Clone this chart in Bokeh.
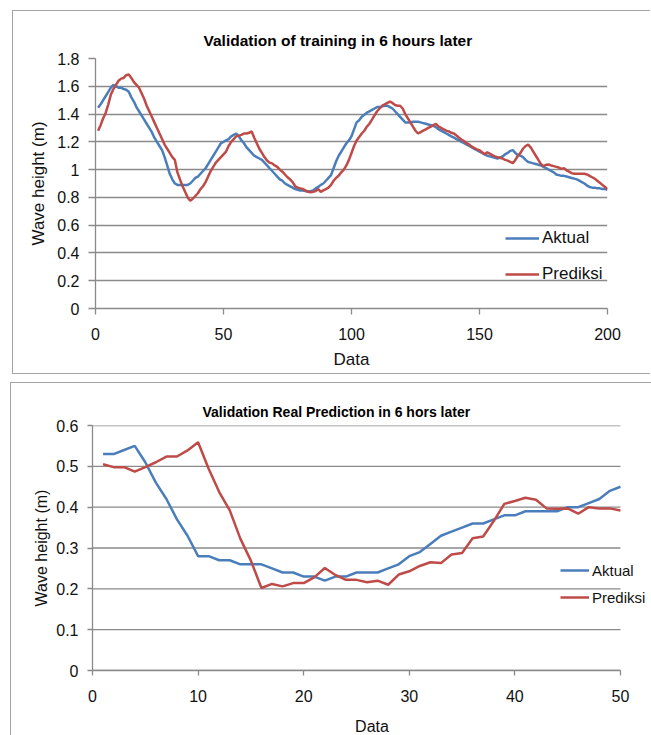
from bokeh.plotting import figure
from bokeh.models import FixedTicker, Legend, LegendItem
from bokeh.embed import file_html
from bokeh.resources import INLINE

# ---------------- Chart 1: Validation of training in 6 hours later ----------------
train_x = list(range(1, 201))
train_aktual = [
    1.445, 1.47, 1.50, 1.53, 1.56, 1.59, 1.61, 1.60, 1.59, 1.59,
    1.58, 1.575, 1.56, 1.52, 1.49, 1.45, 1.42, 1.39, 1.36, 1.33,
    1.30, 1.27, 1.23, 1.20, 1.17, 1.14, 1.09, 1.03, 0.97, 0.93,
    0.90, 0.89, 0.89, 0.89, 0.89, 0.89, 0.90, 0.92, 0.94, 0.95,
    0.97, 0.99, 1.01, 1.04, 1.07, 1.10, 1.13, 1.16, 1.19, 1.20,
    1.21, 1.22, 1.24, 1.25, 1.26, 1.24, 1.21, 1.19, 1.16, 1.14,
    1.12, 1.10, 1.09, 1.08, 1.07, 1.05, 1.03, 1.01, 0.99, 0.97,
    0.95, 0.93, 0.92, 0.90, 0.89, 0.88, 0.87, 0.86, 0.855, 0.85,
    0.85, 0.845, 0.845, 0.845, 0.85, 0.865, 0.875, 0.89, 0.90, 0.92,
    0.94, 0.96, 1.01, 1.06, 1.10, 1.13, 1.16, 1.19, 1.21, 1.24,
    1.29, 1.34, 1.355, 1.38, 1.395, 1.41, 1.42, 1.43, 1.44, 1.45,
    1.45, 1.455, 1.46, 1.46, 1.45, 1.44, 1.42, 1.40, 1.38, 1.36,
    1.34, 1.34, 1.34, 1.345, 1.345, 1.345, 1.34, 1.335, 1.33, 1.325,
    1.32, 1.315, 1.305, 1.29, 1.28, 1.27, 1.26, 1.25, 1.24, 1.23,
    1.22, 1.21, 1.20, 1.19, 1.18, 1.17, 1.16, 1.15, 1.14, 1.13,
    1.12, 1.11, 1.10, 1.095, 1.09, 1.085, 1.08, 1.085, 1.095, 1.11,
    1.12, 1.135, 1.14, 1.12, 1.105, 1.10, 1.09, 1.07, 1.055, 1.05,
    1.045, 1.04, 1.035, 1.03, 1.02, 1.01, 1.00, 0.99, 0.98, 0.965,
    0.96, 0.955, 0.955, 0.95, 0.945, 0.94, 0.935, 0.93, 0.92, 0.91,
    0.90, 0.885, 0.875, 0.87, 0.87, 0.865, 0.865, 0.86, 0.86, 0.855,
]
train_prediksi = [
    1.28, 1.32, 1.37, 1.41, 1.47, 1.54, 1.58, 1.61, 1.64, 1.655,
    1.66, 1.68, 1.685, 1.66, 1.63, 1.61, 1.59, 1.55, 1.51, 1.46,
    1.42, 1.38, 1.34, 1.30, 1.26, 1.22, 1.18, 1.15, 1.12, 1.09,
    1.07, 0.98, 0.93, 0.88, 0.84, 0.80, 0.775, 0.79, 0.81, 0.83,
    0.86, 0.88, 0.91, 0.95, 0.99, 1.02, 1.05, 1.07, 1.09, 1.11,
    1.13, 1.17, 1.20, 1.22, 1.24, 1.245, 1.25, 1.26, 1.26, 1.265,
    1.275, 1.23, 1.19, 1.15, 1.12, 1.09, 1.065, 1.05, 1.045, 1.03,
    1.02, 1.00, 0.985, 0.965, 0.945, 0.93, 0.91, 0.88, 0.87, 0.865,
    0.86, 0.85, 0.84, 0.837, 0.84, 0.845, 0.86, 0.84, 0.85, 0.86,
    0.87, 0.89, 0.92, 0.94, 0.957, 0.98, 1.00, 1.03, 1.07, 1.12,
    1.17, 1.21, 1.235, 1.26, 1.28, 1.31, 1.33, 1.36, 1.39, 1.42,
    1.44, 1.46, 1.47, 1.48, 1.49, 1.48, 1.465, 1.46, 1.46, 1.44,
    1.40, 1.37, 1.34, 1.31, 1.28, 1.26, 1.27, 1.28, 1.29, 1.30,
    1.31, 1.32, 1.33, 1.31, 1.30, 1.29, 1.28, 1.275, 1.265, 1.26,
    1.245, 1.23, 1.215, 1.205, 1.19, 1.18, 1.165, 1.155, 1.145, 1.14,
    1.125, 1.11, 1.125, 1.115, 1.105, 1.095, 1.09, 1.085, 1.08, 1.07,
    1.065, 1.055, 1.046, 1.07, 1.10, 1.12, 1.15, 1.17, 1.18, 1.16,
    1.13, 1.10, 1.07, 1.04, 1.025, 1.035, 1.037, 1.03, 1.025, 1.02,
    1.015, 1.005, 1.01, 0.995, 0.985, 0.975, 0.97, 0.97, 0.97, 0.97,
    0.97, 0.965, 0.955, 0.945, 0.935, 0.92, 0.905, 0.89, 0.875, 0.86,
]
train_xticks = [0, 50, 100, 150, 200]
train_yticks = [0, 0.2, 0.4, 0.6, 0.8, 1.0, 1.2, 1.4, 1.6, 1.8]
train_ytick_labels = ["0", "0.2", "0.4", "0.6", "0.8", "1", "1.2", "1.4", "1.6", "1.8"]

# ---------------- Chart 2: Validation Real Prediction in 6 hors later ----------------
real_x = list(range(1, 51))
real_aktual = [
    0.53, 0.53, 0.54, 0.55, 0.51, 0.46, 0.42, 0.37, 0.33, 0.28,
    0.28, 0.27, 0.27, 0.26, 0.26, 0.26, 0.25, 0.24, 0.24, 0.23,
    0.23, 0.22, 0.23, 0.23, 0.24, 0.24, 0.24, 0.25, 0.26, 0.28,
    0.29, 0.31, 0.33, 0.34, 0.35, 0.36, 0.36, 0.37, 0.38, 0.38,
    0.39, 0.39, 0.39, 0.39, 0.40, 0.40, 0.41, 0.42, 0.44, 0.45,
]
real_prediksi = [
    0.505, 0.498, 0.498, 0.487, 0.498, 0.51, 0.524, 0.524, 0.539, 0.559,
    0.494, 0.437, 0.392, 0.323, 0.269, 0.202, 0.212, 0.206, 0.214, 0.214,
    0.228, 0.251, 0.234, 0.222, 0.222, 0.216, 0.22, 0.21, 0.235, 0.243,
    0.256, 0.265, 0.263, 0.284, 0.288, 0.324, 0.328, 0.366, 0.408, 0.415,
    0.423, 0.418, 0.397, 0.396, 0.397, 0.384, 0.40, 0.397, 0.397, 0.392,
]
real_xticks = [0, 10, 20, 30, 40, 50]
real_yticks = [0, 0.1, 0.2, 0.3, 0.4, 0.5, 0.6]
real_ytick_labels = ["0", "0.1", "0.2", "0.3", "0.4", "0.5", "0.6"]

series_names = ["Aktual", "Prediksi"]
BLUE = "#4a7ebb"
RED = "#be4b48"
GRID = "#8a8a8a"
FONT = "Liberation Sans"


def make_chart(title, xs, ya, yp, xticks, yticks, ylabels, xdata_max, xview_max, ymax,
               frame_w, frame_h, mb, title_size, title_offset, title_standoff,
               tick_size, axlab_size, leg_size, leg_loc, leg_spacing, glyph_w, margin,
               tick_out_y, tick_out_x, x_standoff, xlab_standoff, y_standoff, ylab_standoff,
               own_grid):
    p = figure(frame_width=frame_w, frame_height=frame_h,
               output_backend="svg", toolbar_location=None,
               x_range=(0, xview_max), y_range=(0, ymax),
               min_border_left=mb[0], min_border_right=mb[1],
               min_border_top=mb[2], min_border_bottom=mb[3])
    p.margin = margin
    p.styles = {"border-left": "1px solid #a3a3a3", "border-top": "1px solid #a3a3a3",
                "border-bottom": "1px solid #a3a3a3", "background": "white"}
    p.outline_line_color = None
    p.background_fill_color = "white"
    p.border_fill_color = "white"

    p.title.text = title
    p.title.align = "left"
    p.title.offset = title_offset
    p.title.standoff = title_standoff
    p.title.text_font = FONT
    p.title.text_font_style = "bold"
    p.title.text_font_size = title_size
    p.title.text_color = "#000000"

    p.xgrid.visible = False
    if own_grid:
        # horizontal gridlines limited to the data extent of the x axis
        p.ygrid.visible = False
        p.segment(x0=[0] * len(yticks), x1=[xdata_max] * len(yticks), y0=yticks, y1=yticks,
                  line_color=GRID, line_width=1.3)
        p.xaxis.bounds = (0, xdata_max)
    else:
        p.ygrid.grid_line_color = GRID
        p.ygrid.grid_line_width = 1.3
        p.ygrid.ticker = FixedTicker(ticks=yticks)

    r1 = p.line(xs, ya, line_color=BLUE, line_width=2.5)
    r2 = p.line(xs, yp, line_color=RED, line_width=2.5)

    p.xaxis.ticker = FixedTicker(ticks=xticks)
    p.yaxis.ticker = FixedTicker(ticks=yticks)
    p.yaxis.major_label_overrides = {v: s for v, s in zip(yticks, ylabels)}
    p.xaxis.major_label_overrides = {v: str(v) for v in xticks}
    for ax in (p.xaxis, p.yaxis):
        ax.axis_line_color = GRID
        ax.axis_line_width = 1.3
        ax.major_tick_line_color = GRID
        ax.major_tick_line_width = 1.3
        ax.major_tick_in = 0
        ax.minor_tick_line_color = None
        ax.major_label_text_font = FONT
        ax.major_label_text_font_size = tick_size
        ax.major_label_text_color = "#111111"
        ax.axis_label_text_font = FONT
        ax.axis_label_text_font_style = "normal"
        ax.axis_label_text_color = "#111111"
    p.yaxis.major_tick_out = tick_out_y
    p.xaxis.major_tick_out = tick_out_x
    p.xaxis.axis_label = "Data"
    p.yaxis.axis_label = "Wave height (m)"
    p.xaxis.axis_label_text_font_size = axlab_size
    p.yaxis.axis_label_text_font_size = axlab_size
    p.xaxis.major_label_standoff = x_standoff
    p.xaxis.axis_label_standoff = xlab_standoff
    p.yaxis.major_label_standoff = y_standoff
    p.yaxis.axis_label_standoff = ylab_standoff

    legend = Legend(items=[LegendItem(label=series_names[0], renderers=[r1]),
                           LegendItem(label=series_names[1], renderers=[r2])],
                    location=leg_loc)
    legend.border_line_color = None
    legend.background_fill_alpha = 0
    legend.padding = 0
    legend.margin = 0
    legend.spacing = leg_spacing
    legend.glyph_width = glyph_w
    legend.glyph_height = 20
    legend.label_height = 20
    legend.label_standoff = 3
    legend.label_text_font = FONT
    legend.label_text_font_size = leg_size
    legend.label_text_color = "#111111"
    p.add_layout(legend)
    return p


p1 = make_chart("Validation of training in 6 hours later", train_x, train_aktual, train_prediksi,
                train_xticks, train_yticks, train_ytick_labels, 200, 200, 1.8,
                frame_w=512, frame_h=250, mb=(82, 43, 47, 65),
                title_size="15.5px", title_offset=108, title_standoff=20,
                tick_size="16px", axlab_size="17px", leg_size="17px",
                leg_loc=(410, 24), leg_spacing=16, glyph_w=34, margin=(10, 0, 0, 12),
                tick_out_y=7, tick_out_x=6, x_standoff=13, xlab_standoff=7,
                y_standoff=9, ylab_standoff=6, own_grid=False)

p2 = make_chart("Validation Real Prediction in 6 hors later", real_x, real_aktual, real_prediksi,
                real_xticks, real_yticks, real_ytick_labels, 50, 52.94, 0.6,
                frame_w=559, frame_h=245, mb=(81, 0, 42, 64),
                title_size="14px", title_offset=110, title_standoff=11,
                tick_size="16px", axlab_size="16px", leg_size="15px",
                leg_loc=(468, 63), leg_spacing=7, glyph_w=29, margin=(8, 0, 0, 10),
                tick_out_y=5, tick_out_x=5, x_standoff=14, xlab_standoff=13,
                y_standoff=9, ylab_standoff=3, own_grid=True)

open("out.html", "w").write(file_html([p1, p2], INLINE))
